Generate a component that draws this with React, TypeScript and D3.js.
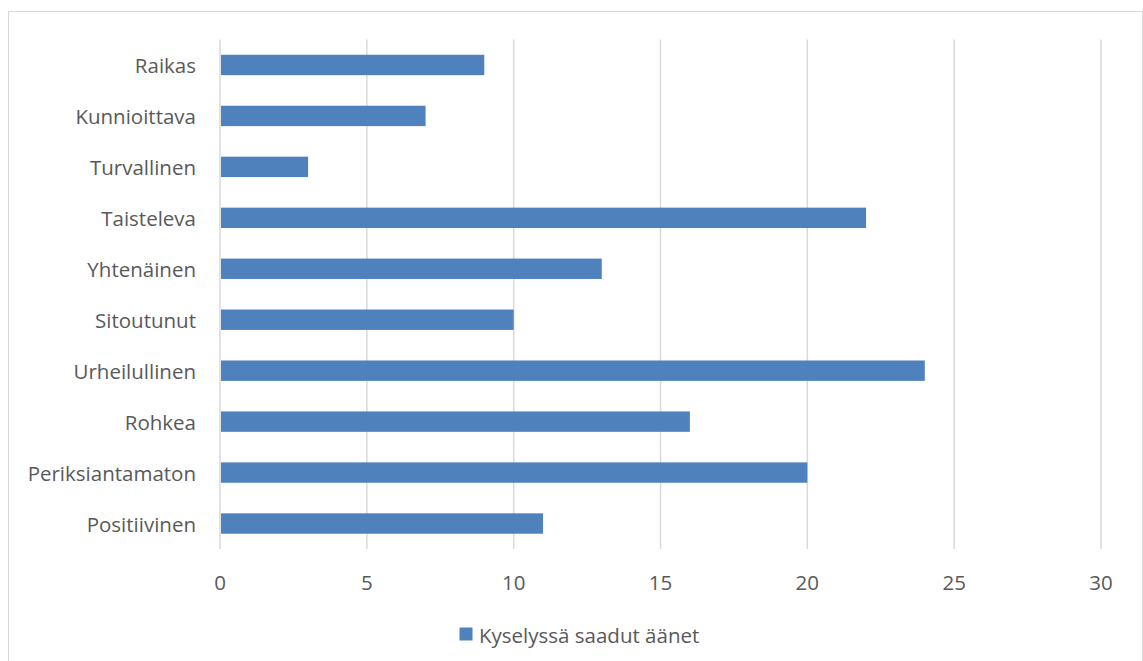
import React from 'react'
import { scaleLinear, scaleBand } from 'd3'

// Data
const categories = ['Raikas', 'Kunnioittava', 'Turvallinen', 'Taisteleva', 'Yhtenäinen', 'Sitoutunut', 'Urheilullinen', 'Rohkea', 'Periksiantamaton', 'Positiivinen']
const votes = [9, 7, 3, 22, 13, 10, 24, 16, 20, 11]
const xTicks = [0, 5, 10, 15, 20, 25, 30]
const seriesName = 'Kyselyssä saadut äänet'

const W = 1143
const H = 661
const font = '"Open Sans", sans-serif'
const fontSize = 20.5
const textColor = '#595959'
const gridColor = '#D9D9D9'
const barColor = '#4F81BD'

const App = () => {
    const x = scaleLinear().domain([0, 30]).range([220, 1101])
    const y = scaleBand().domain(categories).range([39.5, 549])
    const barH = y.bandwidth() / 2.5

    return (
        <svg width={W} height={H} style={{ position: 'absolute', left: 0, top: 0, background: '#fff' }}>
            <rect x={8.5} y={11.5} width={1134} height={700} fill="#fff" stroke={gridColor} />
            {/* Gridlines */}
            {xTicks.map(t => (
                <line key={t} x1={x(t)} x2={x(t)} y1={39.5} y2={549} stroke={gridColor} strokeWidth={1.5} />
            ))}
            {/* Bars */}
            {categories.map((c, i) => (
                <rect key={c} x={x(0) + 1} y={y(c)! + (y.bandwidth() - barH) / 2} width={x(votes[i]) - x(0) - 1} height={barH} fill={barColor} />
            ))}
            {/* Category labels */}
            {categories.map(c => (
                <text key={c} x={196} y={y(c)! + y.bandwidth() / 2} textAnchor="end" dominantBaseline="central"
                    fontFamily={font} fontSize={fontSize} fill={textColor}>{c}</text>
            ))}
            {/* X tick labels */}
            {xTicks.map(t => (
                <text key={t} x={x(t)} y={582} textAnchor="middle" dominantBaseline="central"
                    fontFamily={font} fontSize={fontSize} fill={textColor}>{t}</text>
            ))}
            {/* Legend */}
            <rect x={459.5} y={627.5} width={13} height={13} fill={barColor} />
            <text x={479} y={634.5} dominantBaseline="central" fontFamily={font} fontSize={fontSize} fill={textColor}>{seriesName}</text>
        </svg>
    )
}

export default App
